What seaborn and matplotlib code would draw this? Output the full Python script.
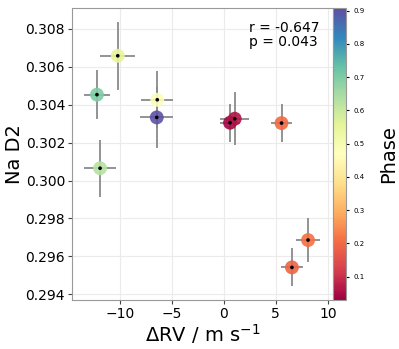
import numpy as np
import pandas as pd
import matplotlib
matplotlib.use("Agg")
import matplotlib.pyplot as plt
import seaborn as sns

# values
delta_rv = [-12.2, -10.2, -6.4, -6.45, -11.9, 0.6, 1.05, 5.55, 8.1, 6.55]
rv_err = [1.25, 1.7, 1.55, 1.6, 1.5, 1.0, 1.4, 1.0, 1.15, 1.05]
na_d2 = [0.30453, 0.30658, 0.30426, 0.30333, 0.30065, 0.30305, 0.30326, 0.30303, 0.29686, 0.29542]
na_err = [0.0013, 0.0018, 0.0015, 0.0016, 0.0015, 0.0010, 0.0014, 0.0010, 0.00114, 0.0010]
phase = [0.70, 0.55, 0.48, 0.90, 0.63, 0.04, 0.06, 0.20, 0.21, 0.19]
cbar_ticks = [0.1, 0.2, 0.3, 0.4, 0.5, 0.6, 0.7, 0.8, 0.9]

df = pd.DataFrame({"rv": delta_rv, "na": na_d2, "phase": phase})
vmin, vmax = 0.03, 0.908

sns.set_style("whitegrid", {"grid.color": "#ebebeb", "axes.edgecolor": "#999999",
                            "text.color": "black", "axes.labelcolor": "black",
                            "xtick.color": "black", "ytick.color": "black"})
fig = plt.figure(figsize=(3.99, 3.49), dpi=100)
ax = fig.add_axes([72/399, 49/349, 261/399, 292/349])
cax = fig.add_axes([333/399, 49/349, 13/399, 292/349])

ax.errorbar(delta_rv, na_d2, xerr=rv_err, yerr=na_err, fmt="none",
            ecolor="#8a8a8a", elinewidth=1.3, zorder=2)
sns.scatterplot(data=df, x="rv", y="na", hue="phase", palette="Spectral",
                hue_norm=(vmin, vmax), s=100, edgecolor="none", alpha=0.9,
                legend=False, ax=ax, zorder=3)
sns.scatterplot(data=df, x="rv", y="na", color="black", s=7, edgecolor="none",
                legend=False, ax=ax, zorder=4)

ax.set_xlim(-14.6, 10.5)
ax.set_ylim(0.2937, 0.3091)
ax.set_xticks([-10, -5, 0, 5, 10])
ax.set_xticklabels(["\u221210", "\u22125", "0", "5", "10"])
ax.set_yticks([0.294, 0.296, 0.298, 0.300, 0.302, 0.304, 0.306, 0.308])
ax.set_yticklabels(["%.3f" % v for v in ax.get_yticks()])
ax.tick_params(axis="both", labelsize=10, length=3, color="#444444",
               left=True, bottom=True, pad=2)
ax.set_xlabel(r"$\Delta$RV / m s$^{-1}$", fontsize=14, labelpad=1)
ax.set_ylabel("Na D2", fontsize=14, labelpad=1)
for sp in ax.spines.values():
    sp.set_color("#999999")

ax.text(0.95, 0.955, "r = -0.647\np = 0.043", transform=ax.transAxes,
        ha="right", va="top", multialignment="left", fontsize=10,
        linespacing=1.0)

sm = plt.cm.ScalarMappable(cmap="Spectral", norm=plt.Normalize(vmin, vmax))
cb = fig.colorbar(sm, cax=cax, ticks=cbar_ticks)
cb.ax.tick_params(labelsize=5, length=2, colors="black")
cb.outline.set_edgecolor("#999999")
cb.set_label("Phase", fontsize=14, labelpad=10)

fig.savefig("out.png", dpi=100)
